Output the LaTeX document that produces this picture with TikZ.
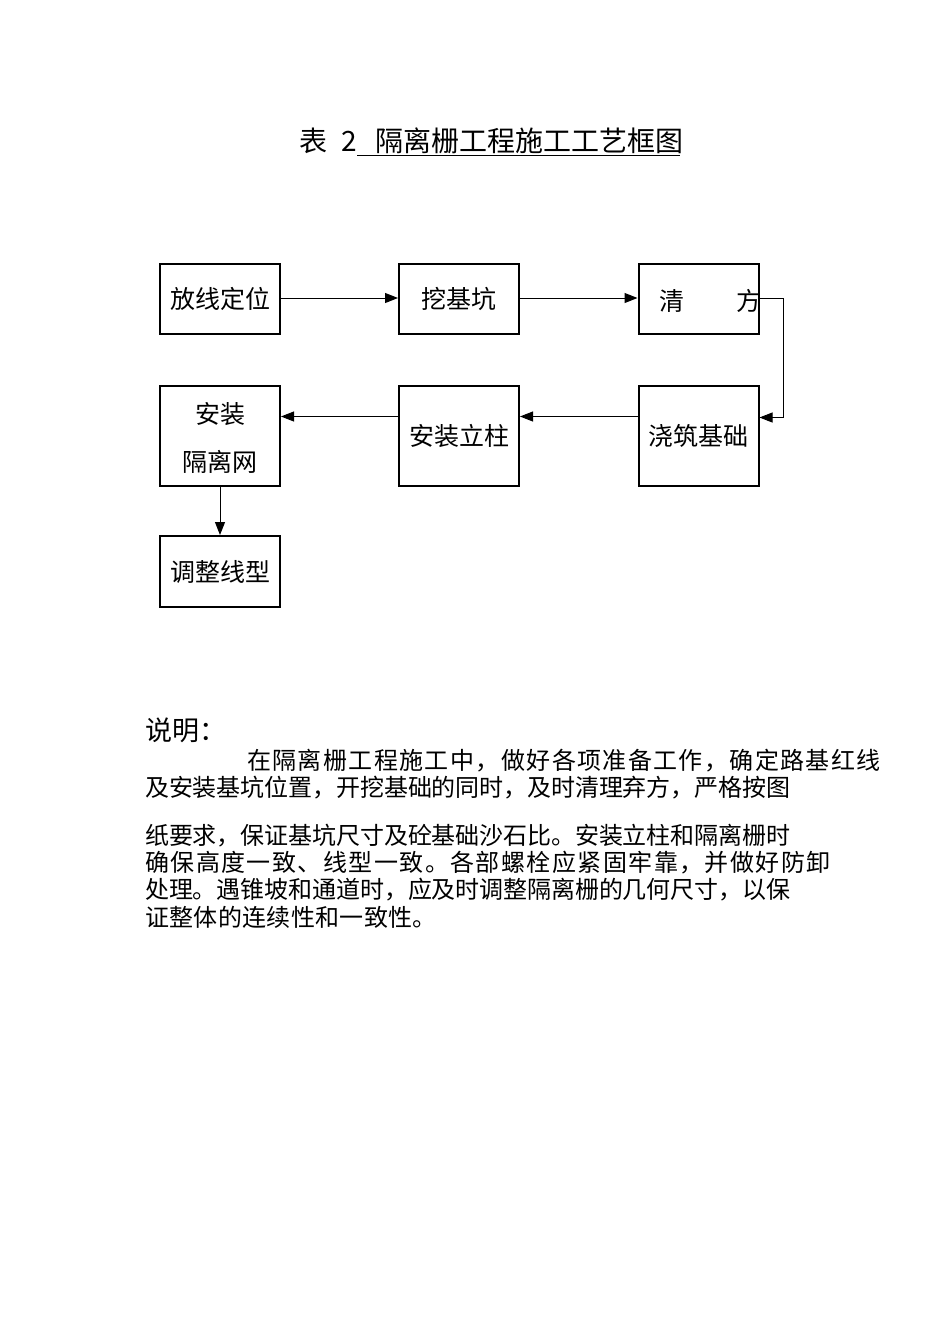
\documentclass[tikz,border=0pt]{standalone}
\usepackage{fontspec}
\newfontfamily\cjk{Noto Sans CJK SC}
\usetikzlibrary{arrows.meta}
\def\spreadchars#1{#1\spreadnext}
\def\spreadnext#1{\ifx#1\relax\else\hskip 0pt plus 1fil minus 1fil #1\expandafter\spreadnext\fi}
\newcommand\spreadline[2]{\makebox[#1][l]{\spreadchars #2\relax}}
\tikzset{
  procbox/.style={draw, line width=2pt, minimum width=120pt, minimum height=70pt, inner sep=0pt,
    font=\cjk\fontsize{25}{30}\selectfont},
  tallbox/.style={procbox, minimum height=100pt},
  lbl/.style={inner sep=0pt, font=\cjk\fontsize{25}{30}\selectfont},
  arr/.style={line width=1pt, -{Triangle[length=13pt,width=10pt]}},
  bodyline/.style={inner sep=0pt, anchor=west, font=\cjk\fontsize{24}{28}\selectfont},
  titletext/.style={inner sep=0pt, font=\cjk\fontsize{28}{32}\selectfont}
}
\begin{document}
\begin{tikzpicture}[x=1pt,y=-1pt]
\useasboundingbox[fill=white] (0,0) rectangle (950,1344);

% title
\node[titletext] (tbiao) at (313,141) {表};
\node[titletext] (tnum) at (349,141) {2};
\node[titletext, anchor=west] (ttitle) at (375,141) {隔离栅工程施工工艺框图};
\draw[line width=1.2pt] ([xshift=-18pt,yshift=-1pt]ttitle.south west) -- ([xshift=-3pt,yshift=-1pt]ttitle.south east);

% flow boxes
\node[procbox] (b1) at (220,299) {放线定位};
\node[procbox] (b2) at (459,299) {挖基坑};
\node[procbox] (b3) at (698.5,299) {};
\node[lbl] (b3a) at (672,301) {清};
\node[lbl] (b3b) at (749,301) {方};
\node[tallbox] (b4) at (698.5,435.5) {浇筑基础};
\node[tallbox] (b5) at (459,435.5) {安装立柱};
\node[tallbox] (b6) at (220,435.5) {};
\node[lbl] (b6a) at (220,414) {安装};
\node[lbl] (b6b) at (220,462) {隔离网};
\node[procbox, minimum height=71pt] (b7) at (220,571.5) {调整线型};

% connectors
\draw[arr] ([yshift=1pt]b1.east) -- ([yshift=1pt]b2.west);
\draw[arr] ([yshift=1pt]b2.east) -- ([yshift=1pt]b3.west);
\coordinate (turn) at (783,298);
\draw[arr] ([yshift=1pt]b3.east) -- (turn) |- ([yshift=18pt]b4.east);
\draw[arr] ([yshift=19pt]b4.west) -- ([yshift=19pt]b5.east);
\draw[arr] ([yshift=19pt]b5.west) -- ([yshift=19pt]b6.east);
\draw[arr] (b6.south) -- (b7.north);

% explanation
\node[inner sep=0pt, anchor=west, font=\cjk\fontsize{27}{30}\selectfont] (shuoming) at (145,730) {说明：};
\node[bodyline] (l1) at (247,761) {\spreadline{635pt}{在隔离栅工程施工中，做好各项准备工作，确定路基红线}};
\node[bodyline] (l2) at (145,788) {\spreadline{645pt}{及安装基坑位置，开挖基础的同时，及时清理弃方，严格按图}};
\node[bodyline] (l3) at (145,836) {\spreadline{645pt}{纸要求，保证基坑尺寸及砼基础沙石比。安装立柱和隔离栅时}};
\node[bodyline] (l4) at (145,863) {\spreadline{687pt}{确保高度一致、线型一致。各部螺栓应紧固牢靠，并做好防卸}};
\node[bodyline] (l5) at (145,890) {\spreadline{645pt}{处理。遇锥坡和通道时，应及时调整隔离栅的几何尺寸，以保}};
\node[bodyline] (l6) at (145,917) {\spreadline{292pt}{证整体的连续性和一致性。}};
\end{tikzpicture}
\end{document}
